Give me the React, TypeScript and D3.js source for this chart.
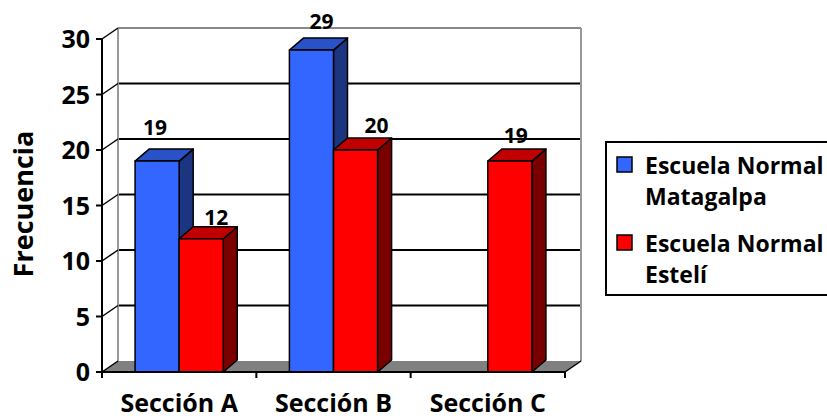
import React from 'react';
import * as d3 from 'd3';

// datos del gráfico
const categories = ['Sección A', 'Sección B', 'Sección C'];
const seriesNames = ['Escuela Normal Matagalpa', 'Escuela Normal Estelí'];
const legendLines = [['Escuela Normal', 'Matagalpa'], ['Escuela Normal', 'Estelí']];
const matagalpa = [19, 29, 0];
const esteli = [12, 20, 19];
const yTicks = [0, 5, 10, 15, 20, 25, 30];

const colors = [
  { front: '#3366FF', top: '#2A52C8', side: '#1C3580' },
  { front: '#FF0000', top: '#C00000', side: '#7A0000' },
];

// desplazamiento de las etiquetas (como en el original)
const labelShift = [
  [[-2, -26], [10, -21], [0, 0]],
  [[15, -14], [21, -17], [6, -18]],
];

const W = 827;
const H = 419;
const FONT = '"Open Sans", "Noto Sans", sans-serif';

const App = () => {
  const values = [matagalpa, esteli];
  const y = d3.scaleLinear().domain([0, 30]).range([372, 39]);
  const x0 = d3.scaleBand().domain(categories).range([102, 565]);
  const x1 = d3.scaleBand().domain(seriesNames).range([0, x0.bandwidth()]).paddingOuter(0.75);

  // profundidad de la pared y de las barras
  const wdx = 16, wdy = -11;
  const bdx = 14, bdy = -12;
  const left = 102, right = 565;
  const y0 = y(0);

  return (
    <svg width={W} height={H} style={{ position: 'absolute', left: 0, top: 0, background: '#fff' }}>
      {/* suelo */}
      <polygon
        points={`${left},${y0} ${right},${y0} ${right + wdx},${y0 + wdy} ${left + wdx},${y0 + wdy}`}
        fill="#808080"
      />
      {/* líneas de cuadrícula */}
      {yTicks.filter(t => t > 0).map(t => (
        <line key={t} x1={left + wdx} x2={right + wdx} y1={y(t) + wdy} y2={y(t) + wdy}
          stroke={t === 30 ? '#888' : '#000'} strokeWidth={2} />
      ))}
      {/* paredes */}
      <line x1={left + wdx} x2={left + wdx} y1={y(30) + wdy} y2={y0 + wdy} stroke="#999" strokeWidth={2} />
      <line x1={right + wdx} x2={right + wdx} y1={y(30) + wdy} y2={y0 + wdy} stroke="#999" strokeWidth={2} />
      {/* diagonales del eje */}
      {yTicks.map(t => (
        <line key={t} x1={left} y1={y(t)} x2={left + wdx} y2={y(t) + wdy} stroke="#000" strokeWidth={1.5} />
      ))}

      {/* barras */}
      {categories.map((c, ci) =>
        seriesNames.map((s, si) => {
          const v = values[si][ci];
          if (!v) return null;
          const bx = (x0(c) || 0) + (x1(s) || 0);
          const bw = x1.bandwidth();
          const by = y(v);
          const col = colors[si];
          return (
            <g key={c + s} stroke="#000" strokeWidth={1.5} strokeLinejoin="round">
              <polygon
                points={`${bx + bw},${by} ${bx + bw + bdx},${by + bdy} ${bx + bw + bdx},${y0 + bdy} ${bx + bw},${y0}`}
                fill={col.side}
              />
              <polygon
                points={`${bx},${by} ${bx + bdx},${by + bdy} ${bx + bw + bdx},${by + bdy} ${bx + bw},${by}`}
                fill={col.top}
              />
              <rect x={bx} y={by} width={bw} height={y0 - by} fill={col.front} />
            </g>
          );
        })
      )}

      {/* etiquetas de valores */}
      {categories.map((c, ci) =>
        seriesNames.map((s, si) => {
          const v = values[si][ci];
          if (!v) return null;
          const bx = (x0(c) || 0) + (x1(s) || 0);
          const [sx, sy] = labelShift[si][ci];
          return (
            <text key={'l' + c + s} x={bx + x1.bandwidth() / 2 + sx} y={y(v) + sy}
              textAnchor="middle" fontFamily={FONT} fontWeight="bold" fontSize={21} fill="#000">
              {v}
            </text>
          );
        })
      )}

      {/* eje Y */}
      <line x1={left} x2={left} y1={y(30)} y2={y0} stroke="#000" strokeWidth={2} />
      {yTicks.map(t => (
        <g key={'t' + t}>
          <line x1={left - 6} x2={left} y1={y(t)} y2={y(t)} stroke="#000" strokeWidth={2} />
          <text x={90} y={y(t)} dy="0.36em" textAnchor="end"
            fontFamily={FONT} fontWeight="bold" fontSize={25} fill="#000">{t}</text>
        </g>
      ))}
      {/* eje X */}
      <line x1={left} x2={right} y1={y0} y2={y0} stroke="#000" strokeWidth={2} />
      <line x1={right} y1={y0} x2={right + wdx} y2={y0 + wdy} stroke="#000" strokeWidth={1.5} />
      {[...categories.map(c => x0(c) || 0), right].map((px, i) => (
        <line key={'xt' + i} x1={px} x2={px} y1={y0} y2={y0 + 6} stroke="#000" strokeWidth={2} />
      ))}
      {categories.map(c => (
        <text key={'xl' + c} x={(x0(c) || 0) + x0.bandwidth() / 2} y={412} textAnchor="middle"
          fontFamily={FONT} fontWeight="bold" fontSize={25} fill="#000">{c}</text>
      ))}
      <text transform="translate(33,204) rotate(-90)" textAnchor="middle"
        fontFamily={FONT} fontWeight="bold" fontSize={27} fill="#000">Frecuencia</text>

      {/* leyenda */}
      <rect x={606} y={142} width={240} height={153} fill="#fff" stroke="#000" strokeWidth={2} />
      {legendLines.map((lines, i) => (
        <g key={'lg' + i}>
          <rect x={617} y={157 + i * 78} width={15} height={15} fill={colors[i].front} stroke="#000" strokeWidth={1.5} />
          {lines.map((ln, j) => (
            <text key={j} x={645} y={174 + i * 78 + j * 31} fontFamily={FONT} fontWeight="bold"
              fontSize={23} fill="#000">{ln}</text>
          ))}
        </g>
      ))}
    </svg>
  );
};

export default App;
